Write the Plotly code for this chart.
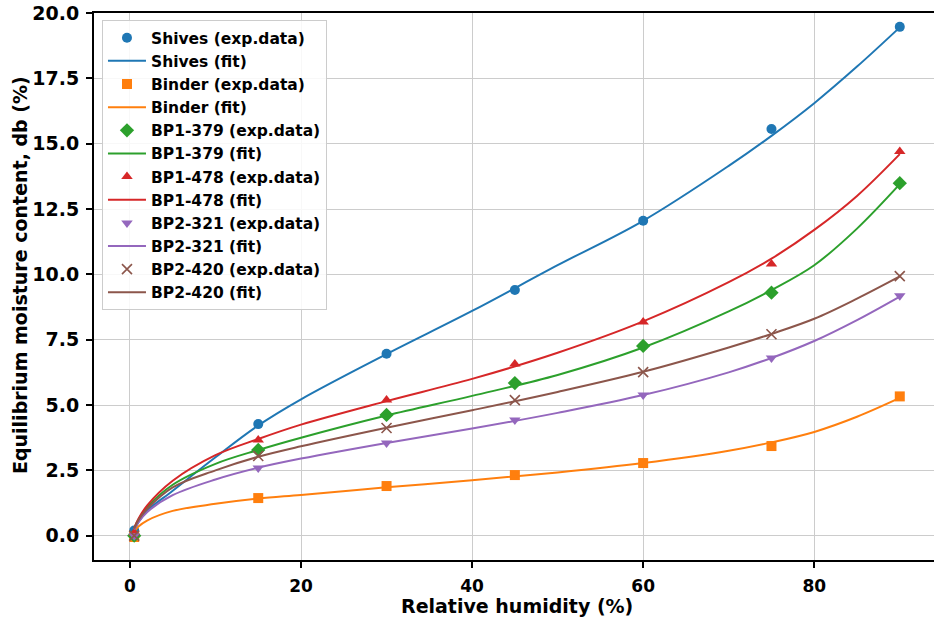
import plotly.graph_objects as go

# Experimental data
rh_exp = [0.5, 15, 30, 45, 60, 75, 90]
shives_exp = [0.2, 4.27, 6.96, 9.40, 12.05, 15.56, 19.47]
binder_exp = [-0.05, 1.44, 1.90, 2.32, 2.78, 3.43, 5.33]
bp1_379_exp = [0.0, 3.28, 4.62, 5.84, 7.26, 9.30, 13.49]
bp1_478_exp = [0.1, 3.66, 5.19, 6.57, 8.18, 10.40, 14.70]
bp2_321_exp = [0.0, 2.59, 3.55, 4.43, 5.38, 6.80, 9.18]
bp2_420_exp = [0.0, 3.05, 4.12, 5.19, 6.26, 7.71, 9.93]

# Fit curves
rh_fit = [0.5, 1, 2, 5, 10, 15, 20, 30, 40, 50, 60, 70, 75, 80, 85, 90]
shives_fit = [0.22, 0.52, 0.95, 1.72, 3.0, 4.22, 5.22, 6.95, 8.6, 10.35, 12.05, 14.15, 15.3, 16.55, 17.95, 19.45]
binder_fit = [0.15, 0.35, 0.58, 0.95, 1.22, 1.42, 1.56, 1.85, 2.12, 2.42, 2.78, 3.25, 3.57, 3.97, 4.55, 5.27]
bp1_379_fit = [0.28, 0.62, 1.08, 1.95, 2.75, 3.28, 3.75, 4.6, 5.35, 6.15, 7.2, 8.58, 9.4, 10.35, 11.75, 13.45]
bp1_478_fit = [0.3, 0.65, 1.15, 2.1, 3.08, 3.7, 4.25, 5.15, 6.0, 7.0, 8.2, 9.7, 10.6, 11.7, 13.0, 14.6]
bp2_321_fit = [0.24, 0.52, 0.9, 1.55, 2.15, 2.6, 2.95, 3.55, 4.1, 4.7, 5.38, 6.25, 6.8, 7.45, 8.25, 9.15]
bp2_420_fit = [0.27, 0.6, 1.02, 1.85, 2.5, 3.02, 3.42, 4.13, 4.8, 5.5, 6.27, 7.2, 7.72, 8.3, 9.07, 9.92]

names = ["Shives", "Binder", "BP1-379", "BP1-478", "BP2-321", "BP2-420"]
colors = ["#1f77b4", "#ff7f0e", "#2ca02c", "#d62728", "#9467bd", "#8c564b"]
symbols = ["circle", "square", "diamond", "triangle-up", "triangle-down", "x-thin"]
sizes = [10, 10, 11, 10, 10, 10]
exp_sets = [shives_exp, binder_exp, bp1_379_exp, bp1_478_exp, bp2_321_exp, bp2_420_exp]
fit_sets = [shives_fit, binder_fit, bp1_379_fit, bp1_478_fit, bp2_321_fit, bp2_420_fit]

fig = go.Figure()
for name, col, sym, sz, ye, yf in zip(names, colors, symbols, sizes, exp_sets, fit_sets):
    marker = dict(color=col, symbol=sym, size=sz)
    if sym == "x-thin":
        marker["line"] = dict(color=col, width=1.6)
    else:
        marker["line"] = dict(width=0)
    fig.add_trace(go.Scatter(x=rh_exp, y=ye, mode="markers", name=f"{name} (exp.data)",
                             marker=marker))
    fig.add_trace(go.Scatter(x=rh_fit, y=yf, mode="lines", name=f"{name} (fit)",
                             line=dict(color=col, width=2, shape="spline", smoothing=1.0)))

fig.update_layout(
    width=934, height=623,
    margin=dict(l=94, r=0, t=13, b=63),
    plot_bgcolor="white", paper_bgcolor="white",
    font=dict(family="DejaVu Sans", color="black"),
    showlegend=True,
    legend=dict(x=0.0095, y=0.987, xanchor="left", yanchor="top",
                bgcolor="rgba(255,255,255,0.85)", bordercolor="#cccccc", borderwidth=1,
                font=dict(family="DejaVu Sans", size=15.5, color="black", weight="bold"),
                itemwidth=38, tracegroupgap=0),
    xaxis=dict(range=[-4.2, 94.0], tickvals=[0, 20, 40, 60, 80], automargin=False,
               showgrid=True, gridcolor="#cccccc", gridwidth=1, zeroline=False,
               showline=True, linecolor="black", linewidth=2, mirror=True,
               ticks="outside", ticklen=6, tickwidth=2, tickcolor="black",
               ticklabelstandoff=4,
               tickfont=dict(size=17, weight="bold")),
    yaxis=dict(range=[-0.93, 20.0], tickvals=[0, 2.5, 5, 7.5, 10, 12.5, 15, 17.5, 20],
               tickformat=".1f", automargin=False,
               showgrid=True, gridcolor="#cccccc", gridwidth=1, zeroline=False,
               showline=True, linecolor="black", linewidth=2, mirror=False,
               ticks="outside", ticklen=6, tickwidth=2, tickcolor="black",
               ticklabelstandoff=3,
               tickfont=dict(size=19, weight="bold")),
    annotations=[
        dict(text="<b>Relative humidity (%)</b>", xref="paper", yref="paper",
             x=0.5036, y=0, xanchor="center", yanchor="middle", yshift=-46,
             showarrow=False, font=dict(size=19, color="black")),
        dict(text="<b>Equilibrium moisture content, db (%)</b>", xref="paper", yref="paper",
             x=0, y=0.521, xanchor="center", yanchor="middle", xshift=-74, textangle=-90,
             showarrow=False, font=dict(size=19, color="black")),
    ],
)

fig.write_html("out.html", config={"displayModeBar": False},
               post_script="document.body.style.margin='0px';document.body.style.overflow='hidden';")
